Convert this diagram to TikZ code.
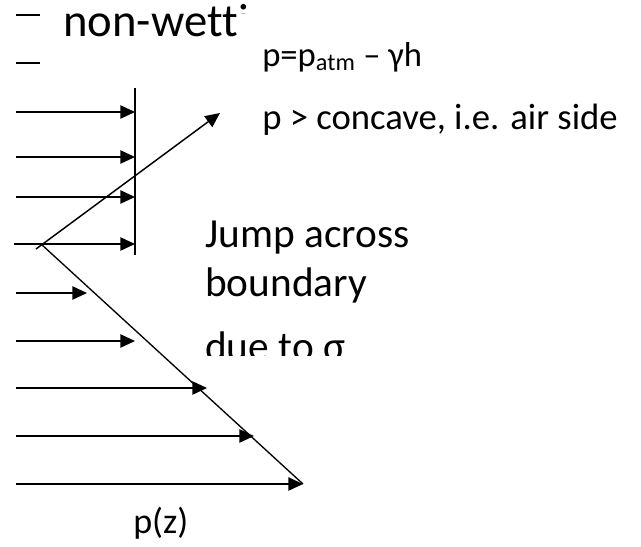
\documentclass[tikz,border=0pt]{standalone}
\usepackage{fontspec}
\setmainfont{Carlito}[Ligatures=NoCommon]
\usetikzlibrary{arrows.meta}

\begin{document}
\begin{tikzpicture}[x=0.75pt,y=-0.75pt,>={Triangle[length=11pt,width=10pt]},
  lbl/.style={inner sep=0pt,anchor=base west},
  pline/.style={line width=1.1pt}]
\useasboundingbox (0,0) rectangle (641,546);

% 上の記号
\coordinate (d1s) at (16,15);  \coordinate (d1e) at (40,15);
\coordinate (d2s) at (16,63);  \coordinate (d2e) at (40,63);
\draw[pline] (d1s) -- (d1e);
\draw[pline] (d2s) -- (d2e);
\node[lbl,font=\fontsize{35}{40}\selectfont] (nw) at (63,36) {non-wett};
\begin{scope}
\clip (0,0) rectangle (641,13);
\node[lbl,font=\fontsize{35}{40}\selectfont] (nwi) at (nw.base east) {i};
\end{scope}

% 壁
\coordinate (wt) at (135,88);
\coordinate (wb) at (135,255);
\draw[pline] (wt) -- (wb);

% 上の矢印
\coordinate (u1s) at (16,112);  \coordinate (u1e) at (135,112);
\coordinate (u2s) at (16,157);  \coordinate (u2e) at (135,157);
\coordinate (u3s) at (16,197);  \coordinate (u3e) at (135,197);
\coordinate (u4s) at (14,244);  \coordinate (u4e) at (135,244);
\draw[pline,->] (u1s) -- (u1e);
\draw[pline,->] (u2s) -- (u2e);
\draw[pline,->] (u3s) -- (u3e);
\draw[pline,->] (u4s) -- (u4e);

% 斜めの線
\coordinate (v0) at (36,249);
\coordinate (vt) at (220,113);
\coordinate (v1) at (41,244);
\coordinate (ve) at (303,484);
\draw[pline,->] (v0) -- (vt);
\draw[line width=1pt] (v1) -- (ve);

% 下の矢印
\coordinate (l1s) at (16,293);  \coordinate (l1e) at (87,293);
\coordinate (l2s) at (16,341);  \coordinate (l2e) at (135,341);
\coordinate (l3s) at (16,388);  \coordinate (l3e) at (207,388);
\coordinate (l4s) at (16,436);  \coordinate (l4e) at (254,436);
\coordinate (l5s) at (16,484);  \coordinate (l5e) at (303,484);
\draw[pline,->] (l1s) -- (l1e);
\draw[pline,->] (l2s) -- (l2e);
\draw[pline,->] (l3s) -- (l3e);
\draw[pline,->] (l4s) -- (l4e);
\draw[pline,->] (l5s) -- (l5e);

% ラベル
\node[lbl,font=\fontsize{26}{31}\selectfont] (patm) at (262,66) {p=p\textsubscript{atm} – γh};
\node[lbl,font=\fontsize{27.5}{33}\selectfont] (conc) at (262,129) {p > concave, i.e. air side};
\begin{scope}
\clip (150,200) rectangle (641,355);
\node[lbl,font=\fontsize{31}{37}\selectfont] (jump) at (205,247) {Jump across};
\node[lbl,font=\fontsize{31}{37}\selectfont] (bnd) at (205,296) {boundary};
\node[lbl,font=\fontsize{31}{37}\selectfont] (due) at (205,360) {due to σ};
\end{scope}
\node[lbl,font=\fontsize{27}{32}\selectfont] (pz) at (133,533) {p(z)};

\end{tikzpicture}
\end{document}
